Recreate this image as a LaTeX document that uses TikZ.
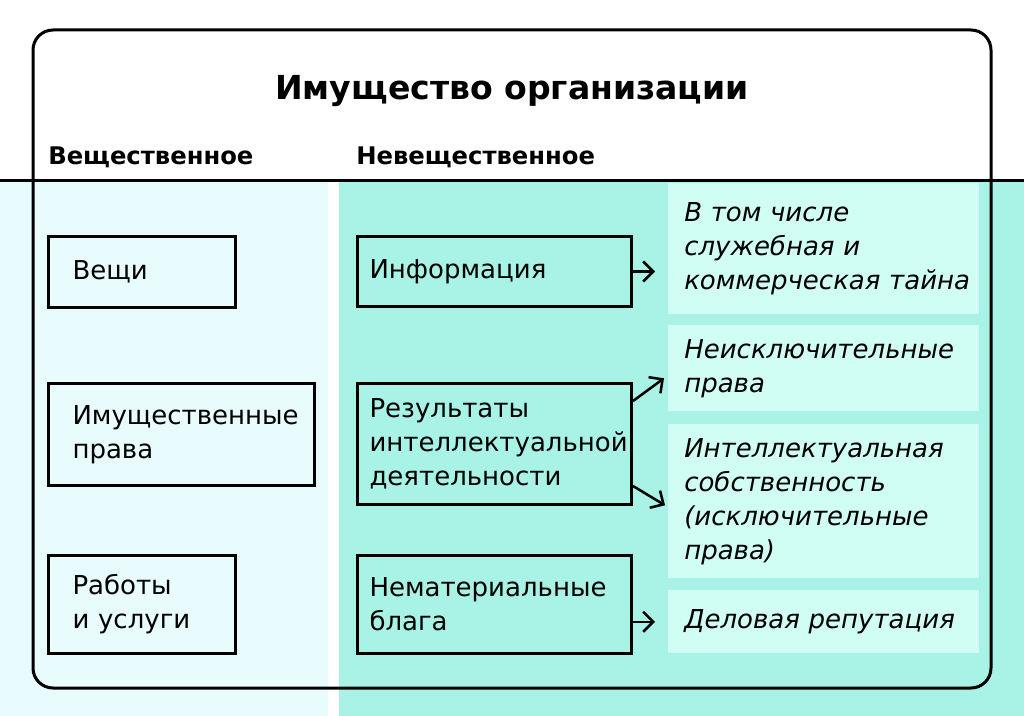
\documentclass[tikz,border=0pt]{standalone}
\usepackage{fontspec}
\setmainfont{DejaVu Sans}
\usetikzlibrary{arrows.meta,calc}
\definecolor{leftc}{HTML}{E8FBFD}
\definecolor{rightc}{HTML}{A8F3E6}
\definecolor{notec}{HTML}{D0FEF5}
\newcommand\dgbody{\fontsize{19.5}{25.5}\selectfont}
\begin{document}
\begin{tikzpicture}[x=0.75pt,y=-0.75pt,
  lbox/.style={draw=black,line width=2.25pt,anchor=north west,align=left,inner ysep=0pt,inner xsep=18pt,font=\dgbody},
  rbox/.style={draw=black,line width=2.25pt,anchor=north west,align=left,inner ysep=0pt,inner xsep=9pt,text width=187.5pt,font=\dgbody},
  note/.style={fill=notec,anchor=north west,align=left,inner ysep=0pt,inner xsep=12pt,text width=209.25pt,font=\dgbody\itshape},
  arr/.style={line width=1.9pt,-{Straight Barb[length=7.5pt,width=15pt,line width=1.9pt]}},
  head/.style={font=\fontsize{18.2}{22}\selectfont\bfseries,inner sep=0pt}]
\useasboundingbox (0,0) rectangle (1024,716);
\fill[white] (0,0) rectangle (1024,716);
\fill[leftc] (0,182) rectangle (328,716);
\fill[rightc] (339,182) rectangle (1024,716);
\draw[line width=2.25pt] (0,181) -- (1024,181);
\draw[line width=2.25pt,rounded corners=15pt] (33,30) rectangle (991,688);

\node[font=\fontsize{24.8}{30}\selectfont\bfseries,anchor=base,inner sep=0pt] (title) at (512,100) {Имущество организации};
\node[head,anchor=base west] (hmat) at (48,165) {Вещественное};
\node[head,anchor=base west] (himm) at (356,165) {Невещественное};

\node[lbox,text width=104.25pt,minimum height=53.25pt] (veshchi) at (47,235) {Вещи};
\node[lbox,text width=163.5pt,minimum height=76.5pt] (prava) at (47,382) {Имущественные\\права};
\node[lbox,text width=104.25pt,minimum height=73.5pt] (raboty) at (47,554) {Работы\\и услуги};

\node[rbox,minimum height=52.5pt] (info) at (356,235) {Информация};
\node[rbox,minimum height=90.75pt] (res) at (356,382) {Результаты\\интеллектуальной\\деятельности};
\node[rbox,minimum height=73.5pt] (nem) at (356,554) {Нематериальные\\блага};

\node[note,minimum height=98.25pt] (n1) at (668,183) {В том числе\\служебная и\\\mbox{коммерческая тайна}};
\node[note,minimum height=64.5pt] (n2) at (668,325) {Неисключительные\\права};
\node[note,minimum height=115.5pt] (n3) at (668,424) {Интеллектуальная\\собственность\\(исключительные\\права)};
\node[note,minimum height=47.25pt] (n4) at (668,590) {Деловая репутация};

\draw[arr,shorten >=9.75pt] (info.east) -- (info.east -| n1.west);
\draw[arr] ($(res.north east)+(0,19)$) -- ($(n2.west)+(-4,10)$);
\draw[arr] ($(res.south east)+(0,-20)$) -- ($(n3.west)+(-3,4)$);
\draw[arr,shorten >=9.75pt] (nem.east |- n4.west) -- (n4.west);
\end{tikzpicture}
\end{document}
